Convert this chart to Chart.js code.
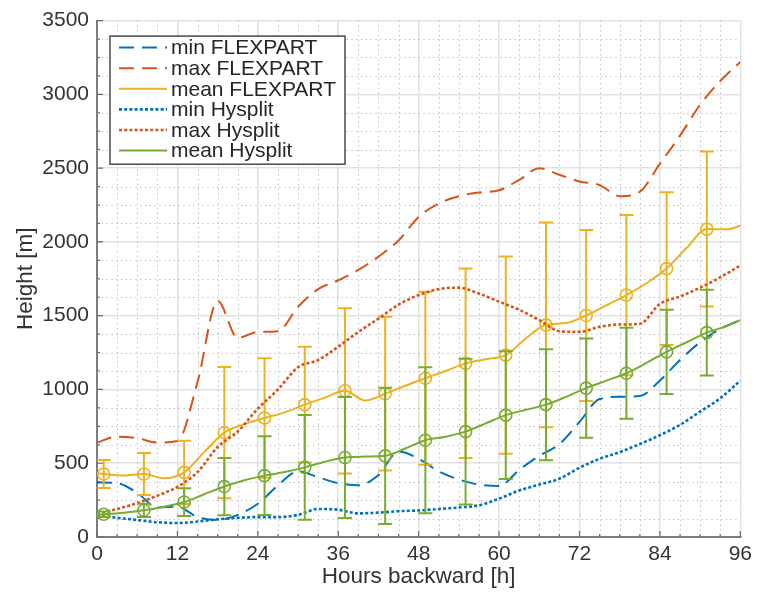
<!DOCTYPE html>
<html>
<head>
<meta charset="utf-8">
<title>Height vs hours backward</title>
<script src="https://cdn.jsdelivr.net/npm/chart.js@4.4.1/dist/chart.umd.min.js"></script>
<style>
  html, body { margin: 0; padding: 0; background: #fff; }
  #wrap { width: 757px; height: 594px; }
</style>
</head>
<body>
<div id="wrap"><canvas id="chart" width="757" height="594"></canvas></div>
<script>
// envelopes (min / max) sampled every 3 h
const hours3 = [0, 3, 6, 9, 12, 15, 18, 21, 24, 27, 30, 33, 36, 39, 42, 45, 48,
                51, 54, 57, 60, 63, 66, 69, 72, 75, 78, 81, 84, 87, 90, 93, 96];
const minFlexpart = [370, 365, 300, 200, 205, 135, 115, 150, 225, 350, 445, 405, 365, 350, 420, 580, 530,
                     445, 390, 355, 345, 455, 550, 630, 780, 935, 950, 955, 1060, 1200, 1320, 1410, 1470];
const maxFlexpart = [640, 680, 670, 640, 650, 1050, 1600, 1350, 1390, 1395, 1560, 1680, 1740, 1810, 1900, 2010, 2170,
                     2260, 2310, 2335, 2350, 2420, 2500, 2455, 2410, 2385, 2310, 2340, 2530, 2720, 2930, 3090, 3220];
const minHysplit = [150, 130, 115, 100, 95, 105, 120, 130, 135, 135, 150, 190, 185, 160, 165, 175, 180,
                    190, 200, 215, 260, 315, 355, 395, 470, 530, 575, 630, 690, 760, 850, 940, 1060];
const maxHysplit = [155, 190, 230, 280, 340, 440, 610, 715, 870, 1000, 1150, 1200, 1290, 1390, 1480, 1575, 1640,
                    1680, 1690, 1650, 1595, 1540, 1470, 1395, 1390, 1425, 1440, 1445, 1580, 1630, 1690, 1760, 1840];

// mean curves, sampled so the vertices hit the marker hours
const hoursMean = [0, 1, 4, 7, 10, 13, 16, 19, 22, 25, 28, 31, 34, 37, 40, 43, 46,
                   49, 52, 55, 58, 61, 64, 67, 70, 73, 76, 79, 82, 85, 88, 91, 94, 96];
const meanFlexpart = [432, 427, 416, 427, 398, 438, 575, 707, 765, 807, 845, 897, 945, 991, 925, 971, 1025,
                      1076, 1125, 1177, 1205, 1233, 1345, 1438, 1450, 1501, 1570, 1640, 1720, 1819, 1960, 2087, 2085, 2110];
const meanHysplit = [150, 154, 165, 181, 205, 237, 290, 342, 385, 416, 440, 472, 510, 539, 545, 550, 600,
                     656, 680, 714, 770, 826, 862, 897, 950, 1009, 1060, 1110, 1180, 1255, 1320, 1385, 1430, 1470];

// markers with +/- 1 std error bars
const markerHours = [1, 7, 13, 19, 25, 31, 37, 43, 49, 55, 61, 67, 73, 79, 85, 91];
const flexMarkMean = [427, 427, 438, 707, 807, 897, 991, 971, 1076, 1177, 1233, 1438, 1501, 1640, 1819, 2087];
const flexMarkStd  = [95, 143, 215, 445, 405, 392, 560, 521, 587, 642, 668, 694, 580, 543, 518, 525];
const hysMarkMean  = [154, 181, 237, 342, 416, 472, 539, 550, 656, 714, 826, 897, 1009, 1110, 1255, 1385];
const hysMarkStd   = [18, 45, 94, 194, 267, 355, 410, 462, 495, 494, 433, 376, 337, 309, 285, 291];

const xTicks = { min: 0, max: 96, step: 12, minor: 3 };
const yTicks = { min: 0, max: 3500, step: 500, minor: 125 };

const BLUE = '#0072BD', ORANGE = '#D95319', YELLOW = '#EDB120', GREEN = '#77AC30';
const FONT = '"Liberation Sans", Arial, Helvetica, sans-serif';
const DASH = [15, 8], DOT = [3, 2.2];

function pts(xs, ys) { return xs.map((x, i) => ({ x, y: ys[i] })); }
function bars(xs, m, s) {
  const out = [];
  xs.forEach((x, i) => { out.push({ x, y: m[i] - s[i] }, { x, y: m[i] + s[i] }, { x, y: null }); });
  return out;
}
function line(label, xs, ys, color, dash, width) {
  return { label, data: pts(xs, ys), borderColor: color, borderWidth: width, borderDash: dash,
           pointRadius: 0, fill: false, cubicInterpolationMode: 'monotone', inLegend: true };
}
function errBars(xs, m, s, color) {
  return { label: '', data: bars(xs, m, s), borderColor: color, borderWidth: 2, spanGaps: false,
           tension: 0, pointStyle: 'line', pointRadius: 7, pointBorderWidth: 2,
           pointBorderColor: color, pointBackgroundColor: color };
}
function markers(xs, m, color) {
  return { label: '', data: pts(xs, m), showLine: false, pointStyle: 'circle', pointRadius: 6,
           pointBorderWidth: 1.6, pointBorderColor: color, pointBackgroundColor: 'rgba(0,0,0,0)' };
}

const datasets = [
  line('min FLEXPART', hours3, minFlexpart, BLUE, DASH, 2),
  line('max FLEXPART', hours3, maxFlexpart, ORANGE, DASH, 2),
  line('mean FLEXPART', hoursMean, meanFlexpart, YELLOW, [], 2),
  errBars(markerHours, flexMarkMean, flexMarkStd, YELLOW),
  markers(markerHours, flexMarkMean, YELLOW),
  line('min Hysplit', hours3, minHysplit, BLUE, DOT, 2.6),
  line('max Hysplit', hours3, maxHysplit, ORANGE, DOT, 2.6),
  line('mean Hysplit', hoursMean, meanHysplit, GREEN, [], 2),
  errBars(markerHours, hysMarkMean, hysMarkStd, GREEN),
  markers(markerHours, hysMarkMean, GREEN),
];
// later series sit on top, like the original plot
datasets.forEach((d, i) => { d.order = datasets.length - i; });

// dotted minor grid + inward tick marks
const minorGrid = {
  id: 'minorGrid',
  beforeDatasetsDraw(chart) {
    const { ctx, chartArea: a, scales: { x, y } } = chart;
    ctx.save();
    ctx.strokeStyle = '#b5b5b5';
    ctx.lineWidth = 1;
    ctx.setLineDash([1.2, 3.6]);
    ctx.beginPath();
    for (let v = xTicks.min; v <= xTicks.max; v += xTicks.minor) {
      if (v % xTicks.step === 0) continue;
      const px = Math.round(x.getPixelForValue(v)) + 0.5;
      ctx.moveTo(px, a.top); ctx.lineTo(px, a.bottom);
    }
    for (let v = yTicks.min; v <= yTicks.max; v += yTicks.minor) {
      if (v % yTicks.step === 0) continue;
      const py = Math.round(y.getPixelForValue(v)) + 0.5;
      ctx.moveTo(a.left, py); ctx.lineTo(a.right, py);
    }
    ctx.stroke();

    ctx.setLineDash([]);
    ctx.strokeStyle = '#6a6a6a';
    ctx.lineWidth = 1.2;
    ctx.beginPath();
    for (let v = xTicks.min; v <= xTicks.max; v += xTicks.minor) {
      const len = v % xTicks.step === 0 ? 6 : 3;
      const px = x.getPixelForValue(v);
      ctx.moveTo(px, a.bottom); ctx.lineTo(px, a.bottom - len);
    }
    for (let v = yTicks.min; v <= yTicks.max; v += yTicks.minor) {
      const len = v % yTicks.step === 0 ? 6 : 3;
      const py = y.getPixelForValue(v);
      ctx.moveTo(a.left, py); ctx.lineTo(a.left + len, py);
    }
    ctx.stroke();
    ctx.restore();
  }
};

// boxed legend inside the top-left of the axes
const legendBox = {
  id: 'legendBox',
  afterDatasetsDraw(chart) {
    const { ctx, chartArea: a } = chart;
    const items = chart.data.datasets.filter(d => d.inLegend);
    const x0 = a.left + 13, y0 = a.top + 15.5, w = 235, rowH = 20.6;
    const h = rowH * items.length + 4.5;
    ctx.save();
    ctx.fillStyle = '#fff';
    ctx.fillRect(x0, y0, w, h);
    ctx.strokeStyle = '#555';
    ctx.lineWidth = 1.6;
    ctx.strokeRect(x0, y0, w, h);
    ctx.font = '21px ' + FONT;
    ctx.textBaseline = 'middle';
    items.forEach((d, i) => {
      const yy = y0 + 11.5 + i * rowH;
      ctx.strokeStyle = d.borderColor;
      ctx.lineWidth = d.borderWidth;
      ctx.setLineDash(d.borderDash || []);
      ctx.beginPath();
      ctx.moveTo(x0 + 9, yy); ctx.lineTo(x0 + 57, yy);
      ctx.stroke();
      ctx.setLineDash([]);
      ctx.fillStyle = '#262626';
      ctx.fillText(d.label, x0 + 61, yy + 1);
    });
    ctx.restore();
  }
};

Chart.defaults.font.family = FONT;
const plain = v => String(v);

new Chart(document.getElementById('chart'), {
  type: 'line',
  data: { datasets },
  options: {
    responsive: false,
    animation: false,
    events: [],
    layout: { padding: { left: 0, right: 15, top: 15, bottom: 0 } },
    plugins: { legend: { display: false }, tooltip: { enabled: false } },
    scales: {
      x: {
        type: 'linear', min: xTicks.min, max: xTicks.max,
        ticks: { stepSize: xTicks.step, color: '#333', padding: 5, font: { size: 21 }, callback: plain },
        grid: { color: '#e2e2e2', lineWidth: 1.5, drawTicks: false },
        border: { color: '#7d7d7d', width: 2 },
        title: { display: true, text: 'Hours backward [h]', color: '#333',
                 font: { size: 22.5 }, padding: { top: 0, bottom: 4 } },
        afterFit(s) { s.height = 57; }
      },
      y: {
        type: 'linear', min: yTicks.min, max: yTicks.max,
        ticks: { stepSize: yTicks.step, color: '#333', padding: 8, font: { size: 21 }, callback: plain },
        grid: { color: '#e2e2e2', lineWidth: 1.5, drawTicks: false },
        border: { color: '#7d7d7d', width: 2 },
        title: { display: true, text: 'Height [m]', color: '#333',
                 font: { size: 22.5 }, padding: { top: 12, bottom: 0 } },
        afterFit(s) { s.width = 97; }
      }
    }
  },
  plugins: [minorGrid, legendBox]
});
</script>
</body>
</html>
